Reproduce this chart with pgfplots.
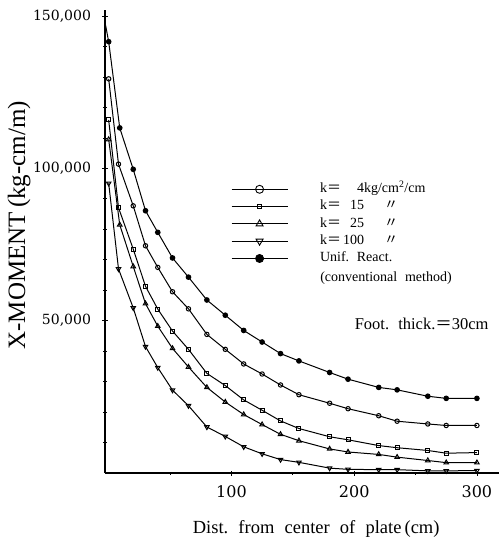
\documentclass[border=0pt]{standalone}
\usepackage{pgfplots}
\pgfplotsset{compat=1.18}
\usepackage{fontspec}
\setmainfont{Liberation Serif}
\newfontfamily\numfont{DejaVu Serif}
\newfontfamily\cjk{Noto Sans CJK JP}
\usetikzlibrary{plotmarks}

% k = 4 kg/cm2/cm
\pgfplotstableread{
x y
0   129400
8   101400
20  87700
30  74600
40  67500
52  59500
65  53900
80  45500
95  40600
110 35800
125 32500
140 28900
155 25700
180 22900
195 21100
220 18800
235 17000
260 16100
275 15600
300 15600
}\kfour
% k = 15
\pgfplotstableread{
x y
0   115900
8   87100
20  73500
30  61300
40  53800
52  46600
65  40600
80  32700
95  28700
110 24000
125 20600
140 17100
155 14600
180 11900
195 10900
220 9000
235 8300
260 7400
275 6500
300 6700
}\kfifteen
% k = 25
\pgfplotstableread{
x y
0   109500
9   81500
20  67800
30  55600
40  48200
52  40900
65  34800
80  28100
95  23300
110 19200
125 15900
140 12700
155 10600
180 7900
195 6900
220 6100
235 5200
260 4100
275 3400
300 3400
}\ktwentyfive
% k = 100
\pgfplotstableread{
x y
0   95100
8   67000
20  54200
30  41500
40  34600
52  27200
65  22100
80  15100
95  12000
110 8600
125 6300
140 4400
155 3500
180 1600
195 1200
220 1100
235 1100
260 700
275 700
300 800
}\khundred
% uniform reaction (conventional method)
\pgfplotstableread{
x y
0   141600
9   113300
20  99700
30  86100
40  79000
52  70600
65  64300
80  56800
95  51800
110 46800
125 43000
140 39200
155 36800
180 33000
195 30800
220 28100
235 27300
260 25200
275 24500
300 24500
}\uniform

\newcommand\ws{\hspace{0.55em}}

\begin{document}
\begin{tikzpicture}
\useasboundingbox (-105pt,-67pt) rectangle (394pt,473pt);
\begin{axis}[
  at={(0pt,0pt)}, anchor=south west,
  scale only axis, width=394pt, height=463pt,
  xmin=-3, xmax=318, ymin=0, ymax=152000,
  axis lines=left,
  axis line style={-, line width=1.2pt},
  xtick={100,200,300}, minor xtick={50,150,250},
  ytick={50000,100000,150000}, minor ytick={10000,20000,...,140000},
  tick align=center,
  major tick length=5pt, minor tick length=3pt,
  tick style={line width=0.8pt, black},
  scaled y ticks=false,
  /pgf/number format/fixed,
  /pgf/number format/1000 sep={,},
  /pgf/number format/assume math mode=true,
  y tick label style={font=\numfont\fontsize{14}{16}\selectfont, xshift=-8pt},
  x tick label style={font=\numfont\fontsize{16}{18}\selectfont, yshift=-7pt},
  xlabel={Dist.\ws from\ws center\ws of\ws plate\,(cm)},
  ylabel={X-MOMENT\,(kg-cm/m)},
  xlabel style={font=\fontsize{18.5}{20}\selectfont, at={(axis description cs:0.536,-0.12)}, anchor=center},
  ylabel style={font=\fontsize{25}{27}\selectfont, at={(axis description cs:-0.218,0.535)}, anchor=center},
  every axis plot/.append style={line width=1pt, black},
  legend style={
    at={(rel axis cs:0.312,0.631)}, anchor=north west,
    draw=none, fill=none,
    font=\fontsize{14}{16}\selectfont,
    nodes={inner sep=0pt, text height=9.5pt, text depth=3pt},
    row sep=4.8pt,
    /tikz/every odd column/.append style={column sep=32pt},
  },
  legend cell align=left,
  legend image code/.code={\draw[mark repeat=2,mark phase=2,#1] plot coordinates {(0pt,0pt) (28pt,0pt) (56pt,0pt)};},
]
% data curves
\addplot[forget plot, mark=o, mark size=2.2pt, mark options={fill=white}] table {\kfour};
\addplot[forget plot, mark=square, mark size=2pt, mark options={fill=white}] table {\kfifteen};
\addplot[forget plot, mark=triangle, mark size=2.6pt, mark options={fill=white}] table {\ktwentyfive};
\addplot[forget plot, mark=triangle, mark size=2.6pt, mark options={fill=white, rotate=180}] table {\khundred};
\addplot[forget plot, mark=*, mark size=2.3pt] table {\uniform};
\addplot[forget plot, no marks] coordinates {(-3,148000) (0,141600)};

% legend
\addlegendimage{line width=0.9pt, mark=o, mark size=4pt, mark options={fill=white}}
\addlegendentry{\makebox[20pt][l]{k{\cjk ＝}}\makebox[24pt][r]{4}kg/cm\textsuperscript{2}/cm}
\addlegendimage{line width=0.9pt, mark=square, mark size=1.8pt, mark options={fill=white}}
\addlegendentry{\makebox[20pt][l]{k{\cjk ＝}}\makebox[24pt][r]{15}\hspace{20pt}{\cjk 〃}}
\addlegendimage{line width=0.9pt, mark=triangle, mark size=4pt, mark options={fill=white}}
\addlegendentry{\makebox[20pt][l]{k{\cjk ＝}}\makebox[24pt][r]{25}\hspace{20pt}{\cjk 〃}}
\addlegendimage{line width=0.9pt, mark=triangle, mark size=4pt, mark options={fill=white, rotate=180}}
\addlegendentry{\makebox[20pt][l]{k{\cjk ＝}}\makebox[24pt][r]{100}\hspace{20pt}{\cjk 〃}}
\addlegendimage{line width=0.9pt, mark=*, mark size=4pt}
\addlegendentry{Unif.\ws React.}

\node[anchor=west, font=\fontsize{14}{16}\selectfont, inner sep=0pt] at (rel axis cs:0.546,0.421) {(conventional\ws method)};
\node[font=\fontsize{16.5}{18}\selectfont] at (axis cs:255,49100) {Foot.\ws thick.{\cjk ＝}30cm};
\end{axis}
\end{tikzpicture}
\end{document}
